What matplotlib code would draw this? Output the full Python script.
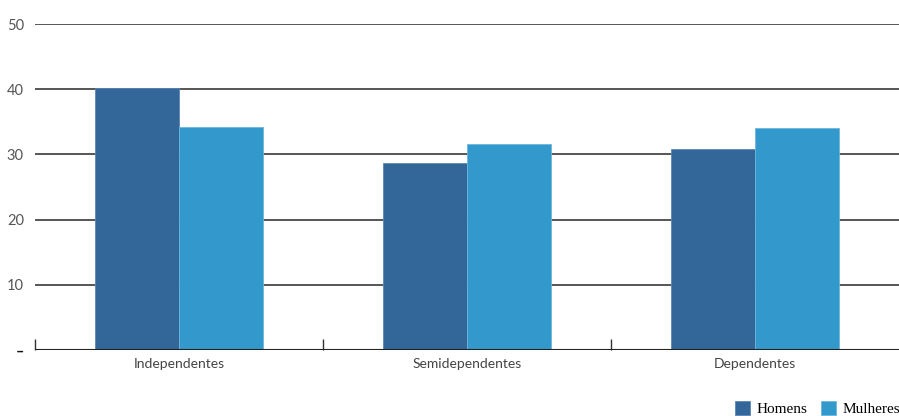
import numpy as np
import matplotlib
matplotlib.use("Agg")
import matplotlib.pyplot as plt

categorias = ["Independentes", "Semidependentes", "Dependentes"]
homens = [40.2, 28.7, 30.8]
mulheres = [34.2, 31.6, 34.0]
yticks = [0, 10, 20, 30, 40, 50]
ytick_labels = ["–", "10", "20", "30", "40", "50"]

cor_homens = "#336699"
cor_mulheres = "#3399cc"

plt.rcParams['font.family'] = ['Lato', 'DejaVu Sans']

fig = plt.figure(figsize=(8.99, 4.16), dpi=100)
ax = fig.add_axes([35 / 899, 1 - 350 / 416, 1 - 35 / 899, (350 - 24) / 416])

x = np.arange(len(categorias)) + 0.5
w = 0.29
ax.bar(x - w / 2, homens, w, color=cor_homens, edgecolor="#5a86b5", linewidth=0.6, zorder=3, label="Homens")
ax.bar(x + w / 2, mulheres, w, color=cor_mulheres, edgecolor="#6bb6de", linewidth=0.6, zorder=3, label="Mulheres")

ax.set_xlim(0, 3)
ax.set_ylim(0, 50)
for v in yticks[1:]:
    ax.axhline(v, color="#3a3a3a", linewidth=1.2, zorder=1)
ax.axhline(0, color="#222222", linewidth=1.5, zorder=4)

ax.set_yticks(yticks)
ax.set_yticklabels(ytick_labels, color="#555555", fontsize=10.5)
ax.tick_params(axis="y", length=0, pad=8)
zero_lbl = ax.get_yticklabels()[0]
zero_lbl.set_fontweight("bold")
zero_lbl.set_color("#111111")

ax.set_xticks([0, 1, 2], minor=False)
ax.set_xticklabels([])
ax.tick_params(axis="x", direction="in", length=8, width=1, color="#333333")
ax.set_xticks(x, minor=True)
ax.set_xticklabels(categorias, minor=True, fontsize=10, color="#444444")
ax.tick_params(axis="x", which="minor", length=0, pad=6)

for s in ax.spines.values():
    s.set_visible(False)

fig.legend(loc="upper left", bbox_to_anchor=(735 / 899, 1 - 401 / 416), ncol=2, frameon=False,
           prop={"family": "Liberation Serif", "size": 11}, handlelength=1.0, handleheight=1.0,
           columnspacing=0.9, handletextpad=0.4, borderaxespad=0, borderpad=0)

fig.savefig("out.png", dpi=100)
